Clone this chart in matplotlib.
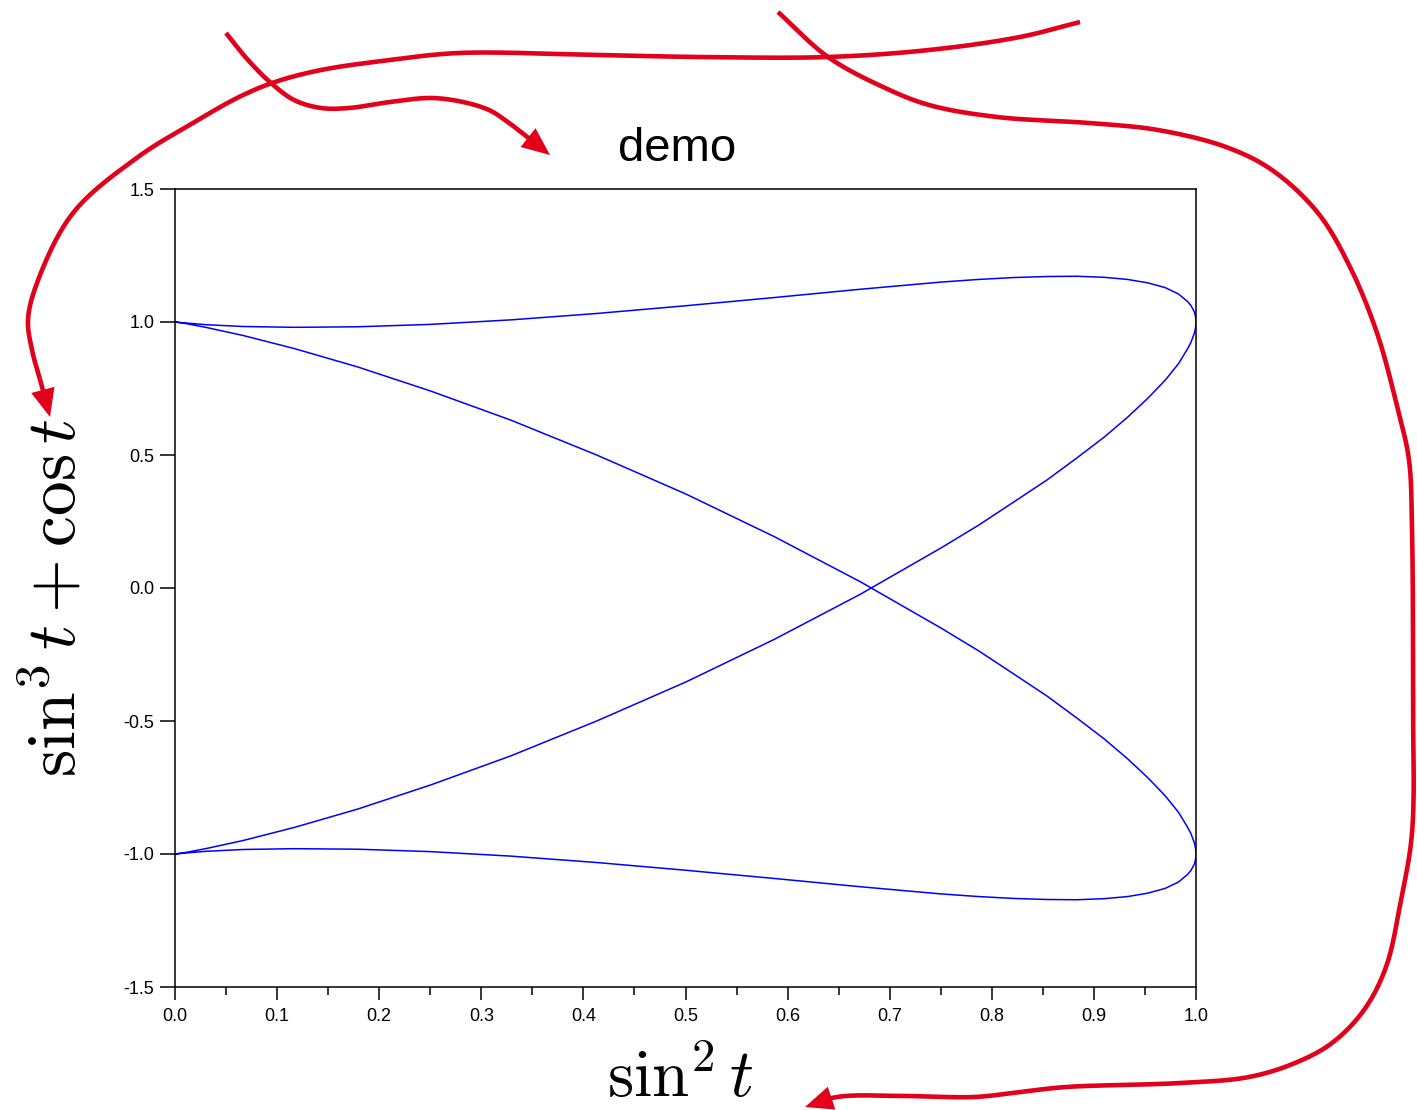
import numpy as np
import matplotlib.pyplot as plt

# Curve (upper loop, the falling/rising diagonals, lower loop)
loop_x = [0.000, 0.008, 0.030, 0.067, 0.117, 0.179, 0.250, 0.329, 0.413, 0.500, 0.587, 0.671,
          0.750, 0.787, 0.821, 0.854, 0.883, 0.910, 0.933, 0.953, 0.970, 0.983, 0.992, 0.995,
          0.998, 0.9988, 0.9997, 0.9999, 1.000]
upper_loop_y = [1.000, 0.997, 0.990, 0.983, 0.980, 0.982, 0.991, 1.008, 1.032, 1.061, 1.092, 1.123,
                1.150, 1.160, 1.167, 1.171, 1.172, 1.168, 1.160, 1.147, 1.129, 1.105, 1.076, 1.062,
                1.041, 1.033, 1.017, 1.009, 1.000]
lower_loop_y = [-1.000, -0.997, -0.990, -0.983, -0.980, -0.982, -0.991, -1.008, -1.032, -1.061, -1.092, -1.123,
                -1.150, -1.160, -1.167, -1.171, -1.172, -1.168, -1.160, -1.147, -1.129, -1.105, -1.076, -1.062,
                -1.041, -1.033, -1.017, -1.009, -1.000]
cross_x = [1.000, 0.9999, 0.9997, 0.9988, 0.998, 0.995, 0.992, 0.983, 0.970, 0.953, 0.933, 0.910,
           0.883, 0.854, 0.821, 0.787, 0.750, 0.671, 0.587, 0.500, 0.413, 0.329, 0.250, 0.179,
           0.117, 0.067, 0.030, 0.008, 0.000]
falling_y = [1.000, 0.991, 0.982, 0.963, 0.954, 0.923, 0.901, 0.844, 0.782, 0.714, 0.642, 0.567,
             0.488, 0.406, 0.322, 0.236, 0.150, -0.024, -0.193, -0.354, -0.500, -0.631, -0.741, -0.831,
             -0.900, -0.949, -0.980, -0.996, -1.000]
rising_y = [-1.000, -0.991, -0.982, -0.963, -0.954, -0.923, -0.901, -0.844, -0.782, -0.714, -0.642, -0.567,
            -0.488, -0.406, -0.322, -0.236, -0.150, 0.024, 0.193, 0.354, 0.500, 0.631, 0.741, 0.831,
            0.900, 0.949, 0.980, 0.996, 1.000]

x_ticks = [0.0, 0.1, 0.2, 0.3, 0.4, 0.5, 0.6, 0.7, 0.8, 0.9, 1.0]
y_ticks = [-1.5, -1.0, -0.5, 0.0, 0.5, 1.0, 1.5]

# Hand drawn red arrows (figure pixels, y down)
arrow_short = [(226, 33), (248, 60), (271, 83), (294, 100), (321, 108), (349, 108), (390, 102),
               (431, 98), (463, 102), (489, 110), (505, 120), (550, 155)]
arrow_left = [(1080, 22), (1020, 37), (929, 50), (828, 57), (700, 57), (596, 55), (459, 53),
              (390, 60), (321, 70), (275, 82), (239, 97), (193, 123), (138, 157),
              (73, 213), (37, 283), (28, 320), (32, 350), (41, 383), (50, 417)]
arrow_right = [(778, 12), (828, 57), (883, 87), (929, 105), (997, 117), (1089, 123), (1158, 130),
               (1226, 147), (1272, 170), (1318, 213), (1350, 267), (1377, 333), (1398, 410),
               (1409, 460), (1412, 530), (1413, 700), (1412, 833), (1401, 900), (1386, 967),
               (1364, 1010), (1332, 1043), (1295, 1063), (1249, 1077), (1181, 1083), (1066, 1087),
               (1020, 1092), (975, 1097), (906, 1096), (837, 1097), (805, 1107)]

plt.rcParams['mathtext.fontset'] = 'cm'
W, H = 1417, 1110
fig = plt.figure(figsize=(W / 100, H / 100), dpi=100)
ax = fig.add_axes([175 / W, 1 - 987 / H, (1196 - 175) / W, (987 - 189) / H])

path_x = loop_x + cross_x + loop_x + cross_x
path_y = upper_loop_y + falling_y + lower_loop_y + rising_y
ax.plot(path_x, path_y, color='#0000ff', lw=1.1)

ax.set_xlim(0, 1)
ax.set_ylim(-1.5, 1.5)
ax.set_xticks(x_ticks)
ax.set_xticklabels(['%.1f' % v for v in x_ticks])
ax.set_xticks(np.arange(0.05, 1.0, 0.1), minor=True)
ax.set_yticks(y_ticks)
ax.set_yticklabels(['%.1f' % v for v in y_ticks])
for s in ax.spines.values():
    s.set_linewidth(1.1)
ax.tick_params(axis='both', which='both', direction='out', width=1.1,
               labelsize=13, labelfontfamily='Liberation Sans', colors='black')
ax.tick_params(axis='x', which='major', length=9, pad=6)
ax.tick_params(axis='x', which='minor', length=6)
ax.tick_params(axis='y', which='major', length=11, pad=4)

fig.text(677 / W, 1 - 161 / H, 'demo', ha='center', va='baseline',
         fontsize=34, family='Liberation Sans')
fig.text(680 / W, 1 - 1097 / H, r'$\sin^2 t$', ha='center', va='baseline', fontsize=48)
fig.text(56 / W, 1 - 598 / H, r'$\sin^3 t + \cos t$', ha='center', va='center',
         rotation=90, fontsize=50)


# overlay for the red arrows
over = fig.add_axes([0, 0, 1, 1], zorder=10)
over.set_xlim(0, W)
over.set_ylim(H, 0)
over.axis('off')
over.patch.set_alpha(0)


def smooth(pts, n=24, alpha=0.5):
    # centripetal Catmull-Rom through the hand-placed points
    p = np.asarray(pts, float)
    p = np.vstack([2 * p[0] - p[1], p, 2 * p[-1] - p[-2]])
    out = []
    for i in range(1, len(p) - 2):
        p0, p1, p2, p3 = p[i - 1], p[i], p[i + 1], p[i + 2]
        t0 = 0.0
        t1 = t0 + np.hypot(*(p1 - p0)) ** alpha
        t2 = t1 + np.hypot(*(p2 - p1)) ** alpha
        t3 = t2 + np.hypot(*(p3 - p2)) ** alpha
        for t in np.linspace(t1, t2, n, endpoint=False):
            a1 = (t1 - t) / (t1 - t0) * p0 + (t - t0) / (t1 - t0) * p1
            a2 = (t2 - t) / (t2 - t1) * p1 + (t - t1) / (t2 - t1) * p2
            a3 = (t3 - t) / (t3 - t2) * p2 + (t - t2) / (t3 - t2) * p3
            b1 = (t2 - t) / (t2 - t0) * a1 + (t - t0) / (t2 - t0) * a2
            b2 = (t3 - t) / (t3 - t1) * a2 + (t - t1) / (t3 - t1) * a3
            out.append((t2 - t) / (t2 - t1) * b1 + (t - t1) / (t2 - t1) * b2)
    out.append(p[-2])
    return np.array(out)


def draw_arrow(pts, head_len=28, head_w=24, color='#e2001a', lw=3.3):
    c = smooth(pts)
    tip = c[-1]
    dist = np.hypot(*(c - tip).T)
    k = np.where(dist >= head_len)[0][-1]
    u = (tip - c[k]) / np.hypot(*(tip - c[k]))
    base = tip - u * head_len
    perp = np.array([-u[1], u[0]])
    line = np.vstack([c[:k + 1], base + u * 2])
    over.plot(line[:, 0], line[:, 1], color=color, lw=lw, solid_capstyle='butt')
    tri = np.array([tip, base + perp * head_w / 2, base - perp * head_w / 2])
    over.fill(tri[:, 0], tri[:, 1], color=color, lw=0)


draw_arrow(arrow_short)
draw_arrow(arrow_left)
draw_arrow(arrow_right)

fig.savefig('out.png', dpi=100)
plt.close()
